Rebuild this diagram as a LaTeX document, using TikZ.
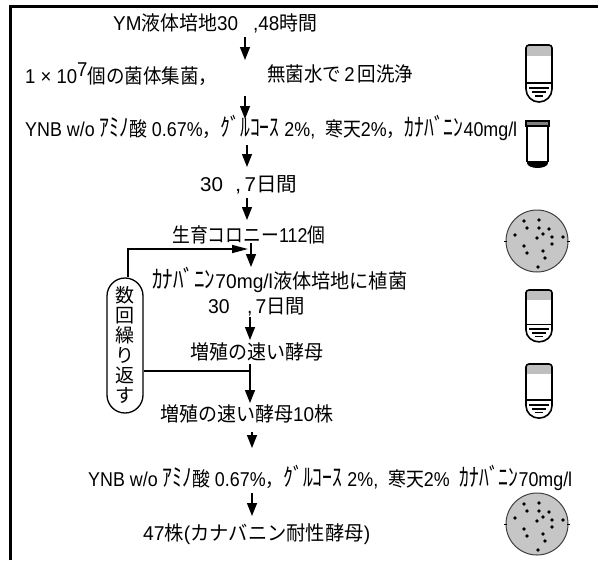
\documentclass[tikz,border=0pt]{standalone}
\usepackage{graphicx}
\usepackage{fontspec}
\setmainfont{Liberation Sans}
\newfontfamily\jp{Noto Sans CJK JP}
\usetikzlibrary{arrows.meta}
% Japanese run inside Latin text
\newcommand\J[1]{{\jp #1}}
% half-width katakana, drawn taller
\newcommand\HK[1]{\scalebox{1.1}[1.25]{\jp #1}}
% stretch a line horizontally to a given width, height kept
\newcommand\fitto[2]{\resizebox{#1}{\height}{#2}}
\tikzset{
  txt/.style={inner sep=0pt, anchor=west, font=\fontsize{20}{23}\selectfont},
  arr/.style={line width=1.4pt, -{Triangle[length=13pt,width=10pt]}},
  harr/.style={line width=1.5pt, -{Triangle[length=16pt,width=8pt]}},
  link/.style={line width=1.5pt},
  frame/.style={line width=2.2pt},
  ctube/.pic={
    \fill[gray!50] (0.8,0.8) rectangle (25.2,11);
    \draw[line width=1.6pt] (0,44) -- (0,3) arc[start angle=180,end angle=270,radius=3]
      -- (23,0) arc[start angle=270,end angle=360,radius=3]
      -- (26,44) arc[start angle=0,end angle=180,radius=13] -- cycle;
    \draw[line width=1.3pt] (0,38) -- (26,38);
    \draw[line width=1.8pt] (3,43) -- (23,43) (6,47) -- (20,47) (9,51) -- (17,51);
  },
  atube/.pic={
    \filldraw[fill=gray, line width=1.2pt] (0,0) rectangle (23,5);
    \draw[line width=1.8pt] (1,5) -- (1,41) (22,5) -- (22,41);
    \draw[line width=1.4pt] (1,41) -- (22,41);
    \fill (1,42) -- (22,42) arc[start angle=0,end angle=180,x radius=10.5,y radius=5] -- cycle;
  },
  plate/.pic={
    \filldraw[fill=gray!45, draw=black!75, line width=1pt] (0,0) circle[radius=31];
    \draw[line width=0.8pt] (-33,0) -- (-30,0) (30,0) -- (33,0);
    \foreach \dx/\dy in {-13/-20,2/-21,-10/-13,2/-13,12/-12,-22/-6,6/-7,0/-3,
                         15/-4,26/-4,-13/5,15/3,-10/12,6/10,8/17,1/26}
      \fill (\dx,\dy) circle[radius=1.9];
  }
}
\begin{document}
\begin{tikzpicture}[x=1pt,y=-1pt]
\useasboundingbox (0,0) rectangle (601,560);
\fill[white] (0,0) rectangle (601,560);

% outer frame
\draw[frame] (10.5,560) |- (598,6.5);

% process steps
\node[txt] (t1) at (113,23) {\fitto{204pt}{YM\J{液体培地}30\hspace{16pt},48\J{時間}}};
\node[txt] (t2a) at (25,74) {\fitto{192pt}{1 × 10\raisebox{7pt}{7}\J{個の菌体集菌，}}};
\node[txt] (t2b) at (267,74) {\fitto{146pt}{\J{無菌水で}\,2\,\J{回洗浄}}};
\node[txt] (t3) at (25,128) {\fitto{492pt}{YNB w/o \HK{ｱﾐﾉ}\J{酸} 0.67\%\J{，}\HK{ｸﾞﾙｺｰｽ} 2\%,\ \ \J{寒天}2\%\J{，}\HK{ｶﾅﾊﾞﾆﾝ}40mg/l}};
\node[txt] (t4) at (200,185) {\fitto{97pt}{30\hspace{12pt},\,7\J{日間}}};
\node[txt] (t5) at (172,235) {\fitto{153pt}{\J{生育コロニー}112\J{個}}};
\node[txt] (t6) at (152,280) {\fitto{255pt}{\HK{ｶﾅﾊﾞﾆﾝ}70mg/l\J{液体培地に植菌}}};
\node[txt] (t7) at (208,307) {\fitto{97pt}{30\hspace{18pt},\,7\J{日間}}};
\node[txt] (t8) at (190,352) {\fitto{133pt}{\J{増殖の速い酵母}}};
\node[txt] (t9) at (160,414) {\fitto{173pt}{\J{増殖の速い酵母}10\J{株}}};
\node[txt] (t10) at (88,478) {\fitto{484pt}{YNB w/o \HK{ｱﾐﾉ}\J{酸} 0.67\%\J{，}\HK{ｸﾞﾙｺｰｽ} 2\%,\ \ \J{寒天}2\%\ \ \HK{ｶﾅﾊﾞﾆﾝ}70mg/l}};
\node[txt] (t11) at (143,534) {\fitto{227pt}{47\J{株}(\J{カナバニン耐性酵母})}};

% repeat loop box
\node[draw, line width=1.3pt, rounded corners=18pt, minimum width=36pt, minimum height=135pt,
      inner sep=0pt, align=center, font=\jp\fontsize{19}{20}\selectfont]
  (loop) at (125,345.5) {数\\回\\繰\\り\\返\\す};

% arrow end points
\coordinate (a1s) at (245,37);  \coordinate (a1e) at (245,60);
\coordinate (a2s) at (245,96);  \coordinate (a2e) at (245,119);
\coordinate (a3s) at (247,145); \coordinate (a3e) at (247,167);
\coordinate (a4s) at (247,198); \coordinate (a4e) at (247,220);
\coordinate (j1)  at (248,249);
\coordinate (a5s) at (251,243); \coordinate (a5e) at (251,267);
\coordinate (a6s) at (250,317); \coordinate (a6e) at (250,340);
\coordinate (a7s) at (250,364); \coordinate (a7e) at (250,403);
\coordinate (j2)  at (250,371);
\coordinate (a8s) at (252,432); \coordinate (a8e) at (252,448);
\coordinate (a9s) at (252,493); \coordinate (a9e) at (252,516);

\draw[arr] (a1s) -- (a1e);
\draw[arr] (a2s) -- (a2e);
\draw[arr] (a3s) -- (a3e);
\draw[arr] (a4s) -- (a4e);
\draw[harr] ([xshift=3pt]loop.north) |- (j1);
\draw[arr] (a5s) -- (a5e);
\draw[arr] (a6s) -- (a6e);
\draw[link] (loop.east |- j2) -- (j2);
\draw[arr] (a7s) -- (a7e);
\draw[arr] (a8s) -- (a8e);
\draw[arr] (a9s) -- (a9e);

% tubes and plates
\pic at (526,45) {ctube};
\pic at (526,121) {atube};
\pic at (537,241) {plate};
\pic[yscale=0.91] at (526,290) {ctube};
\pic[yscale=0.95] at (526,364) {ctube};
\pic at (537,524) {plate};
\end{tikzpicture}
\end{document}
